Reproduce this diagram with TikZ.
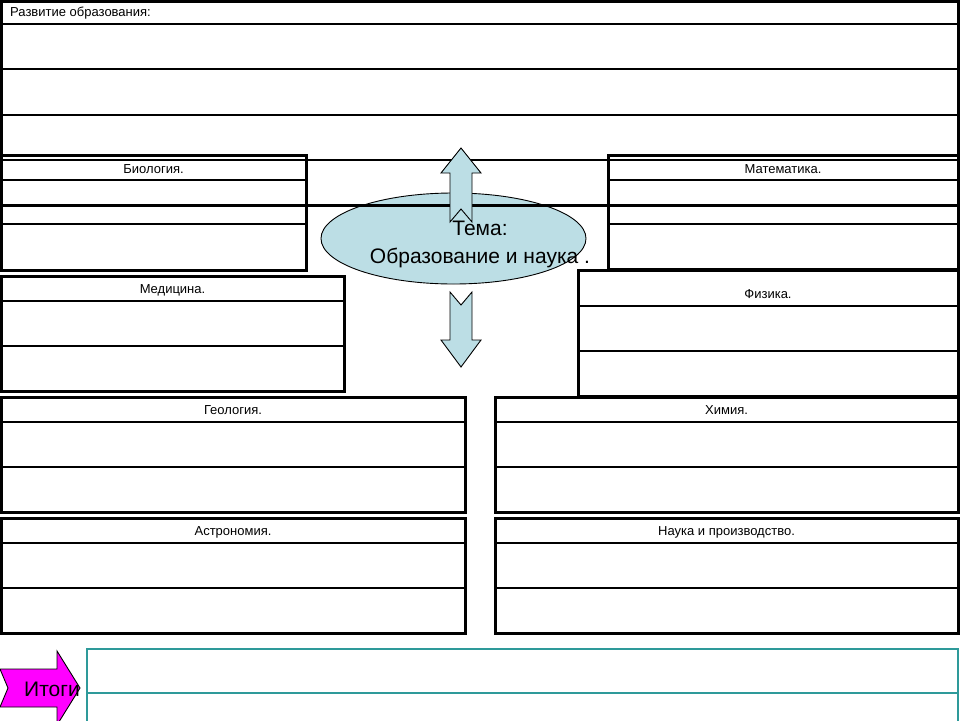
\documentclass[tikz,border=0pt]{standalone}
\usepackage{fontspec}
\setmainfont{Liberation Sans}
\usepackage{tikz}
\usetikzlibrary{positioning}
\usepackage{xcolor}
\definecolor{temaFill}{HTML}{BCDEE5}
\definecolor{itogiFill}{HTML}{FF00FF}
\definecolor{itogiLine}{HTML}{2E9A9A}

\begin{document}
\begin{tikzpicture}[x=1pt, y=-1pt,
  outer/.style={line width=3pt},
  rowline/.style={line width=1.4pt},
  smalllbl/.style={font=\fontsize{13}{15}\selectfont, inner sep=0pt},
  biglbl/.style={font=\fontsize{21}{25}\selectfont, inner sep=0pt}]
\useasboundingbox (0,0) rectangle (960,720);
\clip (0,0) rectangle (960,720);

% Theme ellipse
\draw[fill=temaFill, line width=0.9pt] (453.5,238.5) ellipse [x radius=132.5pt, y radius=45.5pt];

% Top table
\draw[outer] (1,1) rectangle (958,205);
\foreach \y in {24, 69, 115, 160} {
  \draw[rowline] (1,\y) -- (958,\y);
}
\node[smalllbl, anchor=west] (razvitie) at (10,13) {Развитие образования:};

% Arrows from the theme (up and down)
\draw[fill=temaFill, line width=0.9pt] (461,148) -- (481,173) -- (472,173) -- (472,222)
  -- (461,209) -- (450,222) -- (450,173) -- (441,173) -- cycle;
\draw[fill=temaFill, line width=0.9pt] (450,292) -- (461,305) -- (472,292) -- (472,340)
  -- (481,340) -- (461,367) -- (441,340) -- (450,340) -- cycle;

% Subject tables: name/left/right/top/header/row/bottom/label y/label
\foreach \name/\xa/\xb/\ya/\yh/\yr/\yb/\ty/\lbl in {
    bio/1/306/155/180/224/270/169/Биология.,
    med/1/344/276/301/346/391/290/Медицина.,
    geo/1/465/397/422/467/512/410/Геология.,
    astro/1/465/518/543/588/633/532/Астрономия.,
    math/608/958/155/180/224/269/169/Математика.,
    phys/578/958/270/306/351/396/294/Физика.,
    chem/495/958/397/422/467/512/410/Химия.,
    prod/495/958/518/543/588/633/532/Наука и производство.} {
  \draw[rowline] (\xa,\yh) -- (\xb,\yh);
  \draw[rowline] (\xa,\yr) -- (\xb,\yr);
  \draw[outer] (\xa,\ya) rectangle (\xb,\yb);
  \node[smalllbl] (\name) at ({(\xa+\xb)/2},\ty) {\lbl};
}

% Theme text
\node[biglbl, align=center] (tema) at (480,244) {Тема:\\[3pt]Образование и наука .};

% Results table
\draw[itogiLine, rowline] (87,649) rectangle (958,735);
\draw[itogiLine, rowline] (87,693) -- (958,693);

% Results arrow
\draw[fill=itogiFill, line width=0.9pt] (0,669) -- (57,669) -- (57,651) -- (80,688)
  -- (57,725) -- (57,707) -- (0,707) -- (8,688) -- cycle;
\node[biglbl] (itogi) at (52,689) {Итоги};
\end{tikzpicture}
\end{document}
